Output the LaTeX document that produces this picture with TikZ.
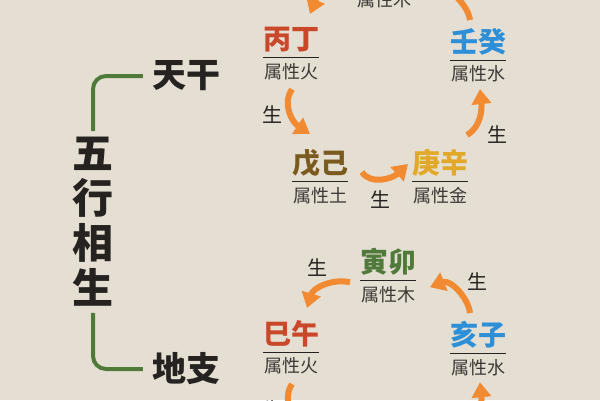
\documentclass[tikz,border=0pt]{standalone}
\usepackage{fontspec}
\setmainfont{Noto Sans CJK SC}
\newfontfamily\heavy{Noto Sans CJK SC Black}
\usetikzlibrary{arrows.meta,positioning}

\definecolor{paper}{RGB}{229,223,211}
\definecolor{ink}{RGB}{38,34,31}
\definecolor{graytext}{RGB}{60,56,52}
\definecolor{huored}{RGB}{201,72,42}
\definecolor{shuiblue}{RGB}{44,143,216}
\definecolor{tubrown}{RGB}{122,90,30}
\definecolor{jingold}{RGB}{226,168,40}
\definecolor{mugreen}{RGB}{79,122,58}
\definecolor{arroworange}{RGB}{241,138,48}

\begin{document}
\begin{tikzpicture}[x=1pt, y=-1pt, node distance=5pt,
    title/.style = {font=\heavy\fontsize{34}{34}\selectfont, text=ink, inner xsep=9pt},
    gan/.style = {font=\heavy\fontsize{28}{28}\selectfont, inner xsep=0pt, inner ysep=5pt},
    attr/.style = {font=\fontsize{18}{18}\selectfont, text=graytext, inner sep=0pt},
    sheng/.style = {font=\fontsize{20}{20}\selectfont, text=ink},
    uline/.style = {draw=ink, line width=0.9pt},
    flow/.style = {draw=arroworange, line width=6pt, -{Triangle[width=19pt,length=15pt]}},
    bracket/.style = {draw=mugreen, line width=4pt, rounded corners=13pt}]

    % Background
    \fill[paper] (0,0) rectangle (600,400);
    \useasboundingbox (0,0) rectangle (600,400);
    \clip (0,0) rectangle (600,400);

    % Titles
    \node[title] (tg) at (186,76) {天干};
    \node[title] (dz) at (186,369) {地支};
    \node[font=\heavy\fontsize{41}{45}\selectfont, text=ink, align=center, inner sep=6pt] (wx) at (93,222) {五\\行\\相\\生};

    % Brackets
    \draw[bracket] (wx.north) |- (tg.west);
    \draw[bracket] (wx.south) |- (dz.west);

    % Nodes (tiangan)
    \node[gan, text=huored] (bing) at (291,40) {丙丁};
    \node[attr, below=of bing] (bingattr) {属性火};
    \node[gan, text=shuiblue] (ren) at (478,42) {壬癸};
    \node[attr, below=of ren] (renattr) {属性水};
    \node[gan, text=tubrown] (wu) at (320,163) {戊己};
    \node[attr, below=of wu] (wuattr) {属性土};
    \node[gan, text=jingold] (geng) at (440,163) {庚辛};
    \node[attr, below=of geng] (gengattr) {属性金};
    \node[attr] (jiaattr) at (384,0) {属性木};

    % Nodes (dizhi)
    \node[gan, text=mugreen] (yin) at (388,262) {寅卯};
    \node[attr, below=of yin] (yinattr) {属性木};
    \node[gan, text=huored] (si) at (291,334) {巳午};
    \node[attr, below=of si] (siattr) {属性火};
    \node[gan, text=shuiblue] (hai) at (478,335) {亥子};
    \node[attr, below=of hai] (haiattr) {属性水};
    \coordinate (chen) at (320,458);
    \coordinate (shen) at (440,458);

    % Underlines
    \foreach \n in {bing,ren,wu,geng,yin,si,hai}
        \draw[uline] (\n.south west) -- (\n.south east);

    % Labels
    \node[sheng] (s1) at (272,115) {生};
    \node[sheng] (s2) at (380,200) {生};
    \node[sheng] (s3) at (497,135) {生};
    \node[sheng] (s4) at (317,268) {生};
    \node[sheng] (s5) at (477,282) {生};
    \node[sheng] (s6) at (272,410) {生};

    % Arrows (tiangan)
    \draw[flow] ([shift={(-32,-24)}]jiaattr.center) .. controls +(-18,0) and +(8,-20) .. ([shift={(19,-26)}]bing.center);
    \draw[flow] ([shift={(1,18)}]bingattr.center) .. controls +(-10,15) and +(-18,-12) .. ([shift={(-10,-29)}]wu.center);
    \draw[flow] ([shift={(42,9)}]wu.center) .. controls +(8,13) and +(-16,15) .. ([shift={(-32,1)}]geng.center);
    \draw[flow] ([shift={(27,-28)}]geng.center) .. controls +(14,-8) and +(2,20) .. ([shift={(2,15)}]renattr.center);
    \draw[flow] ([shift={(-8,-22)}]ren.center) .. controls +(-2,-16) and +(20,-8) .. ([shift={(42,-7)}]jiaattr.center);

    % Arrows (dizhi)
    \draw[flow] ([shift={(-8,-22)}]hai.center) .. controls +(-2,-16) and +(20,-8) .. ([shift={(42,-7)}]yinattr.center);
    \draw[flow] ([shift={(-38,-12)}]yinattr.center) .. controls +(-18,-4) and +(6,-20) .. ([shift={(16,-26)}]si.center);
    \draw[flow] ([shift={(1,18)}]siattr.center) .. controls +(-10,15) and +(-18,-12) .. ([shift={(-10,-29)}]chen);
    \draw[flow] ([shift={(27,-28)}]shen) .. controls +(14,-8) and +(2,20) .. ([shift={(2,15)}]haiattr.center);

\end{tikzpicture}
\end{document}
